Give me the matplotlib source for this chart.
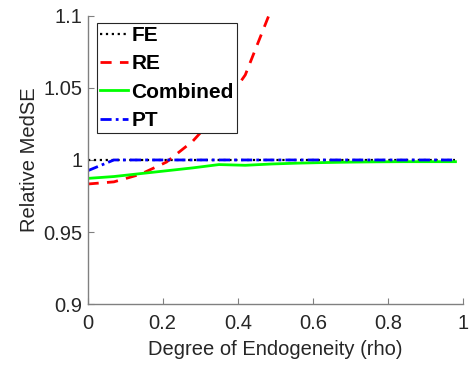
import matplotlib
matplotlib.use('Agg')
import matplotlib.pyplot as plt

plt.rcParams['font.family'] = ['Liberation Sans', 'DejaVu Sans']

# Degree of endogeneity grid
rho = [0.0, 0.07, 0.14, 0.21, 0.28, 0.35, 0.42, 0.49, 0.56, 0.63, 0.70, 0.77, 0.84, 0.91, 0.98]

# Relative MedSE per estimator
fe = [1.0] * len(rho)
re = [0.9833, 0.9848, 0.9900, 0.9985, 1.0130, 1.0330, 1.0590, 1.1050,
      1.1700, 1.2500, 1.3400, 1.4400, 1.5500, 1.6700, 1.8000]
combined = [0.9872, 0.9885, 0.9905, 0.9925, 0.9945, 0.9968, 0.9963, 0.9972,
            0.9978, 0.9982, 0.9985, 0.9987, 0.9988, 0.9988, 0.9988]
pt = [0.9925, 1.0, 1.0, 1.0, 1.0, 1.0, 1.0, 1.0, 1.0, 1.0, 1.0, 1.0, 1.0, 1.0, 1.0]

xticks = [0, 0.2, 0.4, 0.6, 0.8, 1]
xticklabels = ['0', '0.2', '0.4', '0.6', '0.8', '1']
yticks = [0.9, 0.95, 1.0, 1.05, 1.1]
yticklabels = ['0.9', '0.95', '1', '1.05', '1.1']

fig = plt.figure(figsize=(4.71, 3.69), dpi=100)
ax = fig.add_axes([0.186, 0.176, 0.797, 0.781])

ax.plot(rho, fe, color='black', linestyle=':', linewidth=1.6, label='FE')
ax.plot(rho, re, color='red', linestyle=(0, (4, 3)), linewidth=2, label='RE')
ax.plot(rho, combined, color='#00ff00', linestyle='-', linewidth=2, label='Combined')
ax.plot(rho, pt, color='blue', linestyle=(0, (4, 1.5, 1, 1.5)), linewidth=2, label='PT')

ax.set_xlim(0, 1)
ax.set_ylim(0.9, 1.1)
ax.set_xticks(xticks)
ax.set_xticklabels(xticklabels)
ax.set_yticks(yticks)
ax.set_yticklabels(yticklabels)

text_color = '#262626'
for side in ['top', 'right']:
    ax.spines[side].set_visible(False)
for side in ['left', 'bottom']:
    ax.spines[side].set_color('#808080')
    ax.spines[side].set_linewidth(1.0)
ax.tick_params(direction='in', length=4, colors='#808080', labelcolor=text_color,
               labelsize=14.5)
ax.tick_params(axis='x', pad=7)

ax.set_xlabel('Degree of Endogeneity (rho)', fontsize=14.5, color=text_color, labelpad=5)
ax.set_ylabel('Relative MedSE', fontsize=14.5, color=text_color, labelpad=3)

leg = ax.legend(loc='upper left', bbox_to_anchor=(0.025, 0.976), frameon=True,
                fancybox=False, edgecolor='#262626', framealpha=1,
                prop={'weight': 'bold', 'size': 15}, handlelength=1.35,
                handletextpad=0.15, borderpad=0.15, labelspacing=0.45,
                borderaxespad=0)
leg.get_frame().set_linewidth(0.8)

fig.savefig('out.png', dpi=100)
